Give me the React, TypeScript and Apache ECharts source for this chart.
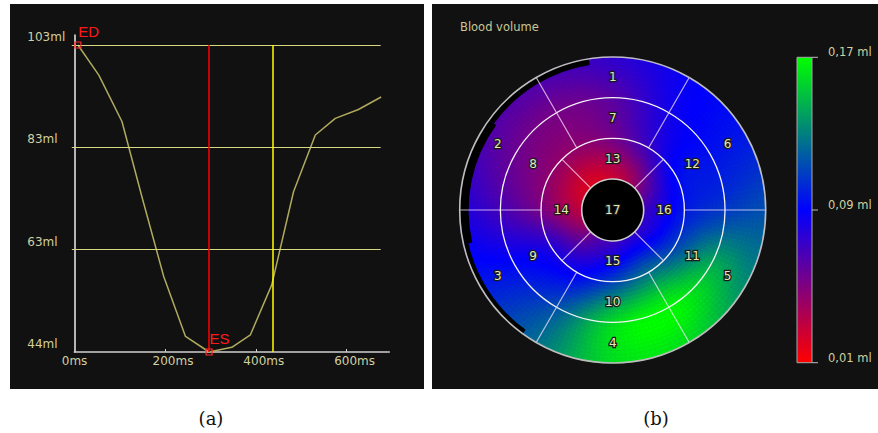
import React, { useEffect, useRef } from 'react';
import * as echarts from 'echarts';

// ---- (a) ventricular volume over one cycle ----
const TIME_MS = [8, 54, 105, 150, 197, 245, 297, 347, 388, 435, 483, 531, 575, 626, 676];
const VOLUME_ML = [103, 97.2, 88.3, 73.5, 58.5, 47.0, 44, 44.9, 47.3, 56.9, 74.8, 85.7, 88.9, 90.6, 93.0];
const ED_POINT = [8, 103];
const ES_POINT = [297, 44];
const CURSOR_MS = 438;
const VOLUME_TICKS = [44, 63.667, 83.333, 103];
const TIME_TICKS = [0, 200, 400, 600];
const TIME_MAX = 694;
const GRID_END_MS = 675;
const VOLUME_MIN = 44;
const VOLUME_MAX = 104.92;

// ---- (b) bull's-eye blood volume ----
// Field readings on ring boundaries (radius units: 0 = apex edge ... 3 = base edge)
const FIELD_RADII = [0, 1, 2, 3];
const FIELD_ANGLES = [0, 30, 60, 90, 120, 150, 180, 210, 240, 270, 300, 330];
const FIELD_ML = [
  [0.072, 0.055, 0.036, 0.026, 0.020, 0.021, 0.030, 0.042, 0.062, 0.070, 0.075, 0.074],
  [0.097, 0.091, 0.072, 0.053, 0.044, 0.044, 0.052, 0.078, 0.088, 0.110, 0.125, 0.110],
  [0.108, 0.095, 0.084, 0.062, 0.053, 0.056, 0.068, 0.092, 0.115, 0.158, 0.168, 0.145],
  [0.115, 0.097, 0.088, 0.075, 0.066, 0.066, 0.080, 0.098, 0.125, 0.160, 0.160, 0.135],
];

// 17-segment model
const SEGMENT_IDS = [1, 2, 3, 4, 5, 6, 7, 8, 9, 10, 11, 12, 13, 14, 15, 16];
const SEGMENT_RING = [2, 2, 2, 2, 2, 2, 1, 1, 1, 1, 1, 1, 0, 0, 0, 0];
const SEGMENT_START = [60, 120, 180, 240, 300, 0, 60, 120, 180, 240, 300, 0, 45, 135, 225, 315];
const SEGMENT_END = [120, 180, 240, 300, 360, 60, 120, 180, 240, 300, 360, 60, 135, 225, 315, 405];
const APEX_ID = 17;

// dark arcs along the outer border
const ARC_START = [99, 144, 193];
const ARC_END = [144, 193, 234];
const ARC_INNER = [2.85, 2.78, 2.88];

const VMIN = 0.01;
const VMAX = 0.17;
const COLORS = ['#ff0000', '#0000ff', '#00ff00'];
const LEGEND_TICKS = [0.17, 0.09, 0.01];

const FONT = 'DejaVu Sans';
const LABEL_COLOR = '#d0d0a0';

function scaleColor(v: number): string {
  const t = Math.max(0, Math.min(1, (v - VMIN) / (VMAX - VMIN)));
  return echarts.color.lerp(t, COLORS) as string;
}

// Catmull-Rom blend of four neighbouring readings
function cubic(p0: number, p1: number, p2: number, p3: number, t: number): number {
  return 0.5 * (2 * p1 + (-p0 + p2) * t + (2 * p0 - 5 * p1 + 4 * p2 - p3) * t * t + (-p0 + 3 * p1 - 3 * p2 + p3) * t * t * t);
}

function fieldAt(r: number, a: number): number {
  const nr = FIELD_RADII.length;
  const na = FIELD_ANGLES.length;
  const step = 360 / na;
  const rr = Math.max(0, Math.min(FIELD_RADII[nr - 1] - 1e-9, r));
  let i = 0;
  while (i < nr - 2 && rr > FIELD_RADII[i + 1]) i++;
  const fr = (rr - FIELD_RADII[i]) / (FIELD_RADII[i + 1] - FIELD_RADII[i]);
  const aa = ((a % 360) + 360) % 360;
  const j = Math.floor(aa / step) % na;
  const fa = aa / step - Math.floor(aa / step);
  const row = (k: number) => {
    const rowVals = FIELD_ML[Math.max(0, Math.min(nr - 1, k))];
    return cubic(
      rowVals[(j - 1 + na) % na], rowVals[j], rowVals[(j + 1) % na], rowVals[(j + 2) % na], fa,
    );
  };
  return cubic(row(i - 1), row(i), row(i + 1), row(i + 2), fr);
}

function radiusPx(api: any, cs: any, rv: number): number {
  const p = api.coord([rv, 0]);
  return Math.hypot(p[0] - cs.cx, p[1] - cs.cy);
}

const D2R = Math.PI / 180;

function renderFieldPatch(params: any, api: any) {
  const cs = params.coordSys;
  const r = api.value(0);
  const a = api.value(1);
  const rLo = Math.max(0, r - 0.5);
  const rHi = Math.min(3, r + 0.5);
  const half = 360 / FIELD_ANGLES.length / 2;
  const nR = Math.round((rHi - rLo) / 0.1);
  const nA = Math.round((2 * half) / 2);
  const dR = (rHi - rLo) / nR;
  const dA = (2 * half) / nA;
  const children: any[] = [];
  for (let m = 0; m < nR; m++) {
    const rv = rLo + m * dR;
    const r0 = radiusPx(api, cs, rv);
    const r1 = radiusPx(api, cs, rv + dR);
    for (let k = 0; k < nA; k++) {
      const av = a - half + k * dA;
      const c = scaleColor(fieldAt(rv + dR / 2, av + dA / 2));
      children.push({
        type: 'sector',
        shape: { cx: cs.cx, cy: cs.cy, r0, r: r1, startAngle: -(av + dA) * D2R, endAngle: -av * D2R, clockwise: true },
        style: { fill: c, stroke: c, lineWidth: 0.7 },
      });
    }
  }
  return { type: 'group', children };
}

function renderArc(params: any, api: any) {
  const cs = params.coordSys;
  const inner = api.value(0);
  const a0 = api.value(1);
  const a1 = api.value(2);
  return {
    type: 'sector',
    shape: {
      cx: cs.cx, cy: cs.cy, r0: radiusPx(api, cs, inner), r: radiusPx(api, cs, 3),
      startAngle: -a1 * D2R, endAngle: -a0 * D2R, clockwise: true,
    },
    style: { fill: '#000000' },
  };
}

const segLabelStyle = {
  fill: '#e6e6b8', stroke: '#1a1a1a', lineWidth: 2.5,
  fontSize: 12, fontFamily: FONT, align: 'center', verticalAlign: 'middle',
};

function renderSegment(params: any, api: any) {
  const cs = params.coordSys;
  const ring = api.value(0);
  const a0 = api.value(1);
  const a1 = api.value(2);
  const id = api.value(3);
  if (ring < 0) {
    const rh = radiusPx(api, cs, 0);
    return {
      type: 'group',
      children: [
        { type: 'circle', shape: { cx: cs.cx, cy: cs.cy, r: rh }, style: { fill: '#000000', stroke: '#cfcfcf', lineWidth: 1.6 } },
        { type: 'text', style: { ...segLabelStyle, text: String(id), x: cs.cx, y: cs.cy } },
      ],
    };
  }
  const pIn = api.coord([ring, a0]);
  const pOut = api.coord([ring + 1, a0]);
  const rOut = radiusPx(api, cs, ring + 1);
  const mid = api.coord([ring + 0.5, (a0 + a1) / 2]);
  return {
    type: 'group',
    children: [
      {
        type: 'line',
        shape: { x1: pIn[0], y1: pIn[1], x2: pOut[0], y2: pOut[1] },
        style: { stroke: 'rgba(255,236,255,0.72)', lineWidth: 1.2 },
      },
      {
        type: 'arc',
        shape: { cx: cs.cx, cy: cs.cy, r: rOut, startAngle: -a1 * D2R, endAngle: -a0 * D2R, clockwise: true },
        style: { stroke: ring === 2 ? '#bdbdbd' : '#f4f4f4', lineWidth: ring === 2 ? 1.6 : 1.3, fill: 'none' },
      },
      { type: 'text', style: { ...segLabelStyle, text: String(id), x: mid[0], y: mid[1] } },
    ],
  };
}

function buildOption(): any {
  const fieldData: number[][] = [];
  FIELD_RADII.forEach((r, i) => FIELD_ANGLES.forEach((a, j) => fieldData.push([r, a, FIELD_ML[i][j]])));

  const segmentData = SEGMENT_IDS.map((id, i) => [SEGMENT_RING[i], SEGMENT_START[i], SEGMENT_END[i], id]);
  segmentData.push([-1, 0, 360, APEX_ID]);

  const arcData = ARC_START.map((a, i) => [ARC_INNER[i], a, ARC_END[i]]);

  // colour bar: top = VMAX, bottom = VMIN
  const barX = 797;
  const barTop = 57.3;
  const barH = 305.4;
  const barW = 15;
  const barY = (v: number) => barTop + ((VMAX - v) / (VMAX - VMIN)) * barH;
  const stops = COLORS.map((c, i) => ({ offset: 1 - i / (COLORS.length - 1), color: c }))
    .sort((p, q) => p.offset - q.offset);

  const legendGraphics: any[] = [];
  LEGEND_TICKS.forEach((v) => {
    const y = barY(v);
    legendGraphics.push({
      type: 'line', shape: { x1: barX + barW, y1: y, x2: barX + barW + 6, y2: y },
      style: { stroke: '#bcbcbc', lineWidth: 1 },
    });
    legendGraphics.push({
      type: 'text', x: 828, y: y - 5,
      style: {
        text: v.toFixed(2).replace('.', ',') + ' ml', fill: LABEL_COLOR,
        fontSize: 11.5, fontFamily: FONT, verticalAlign: 'middle', align: 'left',
      },
    });
  });

  return {
    animation: false,
    backgroundColor: '#ffffff',
    graphic: [
      { type: 'rect', z: -10, shape: { x: 10, y: 4, width: 414, height: 385 }, style: { fill: '#111111' } },
      { type: 'rect', z: -10, shape: { x: 432, y: 4, width: 446, height: 385 }, style: { fill: '#111111' } },
      {
        type: 'text', x: 460, y: 27,
        style: { text: 'Blood volume', fill: '#c8c896', fontSize: 11.5, fontFamily: FONT, verticalAlign: 'middle' },
      },
      {
        type: 'rect', shape: { x: barX, y: barTop, width: barW, height: barH },
        style: { fill: { type: 'linear', x: 0, y: 0, x2: 0, y2: 1, colorStops: stops }, stroke: '#a8a8a8', lineWidth: 1 },
      },
      ...legendGraphics,
      {
        type: 'text', x: 211, y: 418,
        style: { text: '(a)', fill: '#111', fontSize: 18, fontFamily: 'DejaVu Serif', align: 'center', verticalAlign: 'middle' },
      },
      {
        type: 'text', x: 656, y: 418,
        style: { text: '(b)', fill: '#111', fontSize: 18, fontFamily: 'DejaVu Serif', align: 'center', verticalAlign: 'middle' },
      },
    ],
    grid: { left: 74.3, top: 35, width: 315, height: 317, containLabel: false, outerBoundsMode: 'none' },
    xAxis: {
      type: 'value', min: 0, max: TIME_MAX, z: 3,
      axisLine: { show: true, onZero: false, lineStyle: { color: '#cfcfcf', width: 1.5 } },
      axisTick: { show: true, inside: true, length: 3, customValues: TIME_TICKS.slice(1), lineStyle: { color: '#cfcfcf' } },
      axisLabel: {
        customValues: TIME_TICKS, margin: 3, align: 'center',
        formatter: (v: number) => `{t|${v}ms}`,
        rich: { t: { width: 25, align: 'left', color: LABEL_COLOR, fontSize: 12, fontFamily: FONT } },
      },
      splitLine: { show: false },
    },
    yAxis: {
      type: 'value', min: VOLUME_MIN, max: VOLUME_MAX, z: 3,
      axisLine: { show: true, onZero: false, lineStyle: { color: '#ececec', width: 1.5 } },
      axisTick: { show: true, length: 2.5, customValues: VOLUME_TICKS.slice(1), lineStyle: { color: '#d8d880' } },
      axisLabel: {
        customValues: VOLUME_TICKS, margin: 47, align: 'left', verticalAlign: 'bottom', padding: [0, 0, 2, 0],
        formatter: (v: number) => `${Math.floor(v + 1e-6)}ml`,
        color: LABEL_COLOR, fontSize: 12, fontFamily: FONT,
      },
      splitLine: { show: false },
    },
    polar: { center: [612.7, 210], radius: [31, 153] },
    angleAxis: { type: 'value', min: 0, max: 360, startAngle: 0, clockwise: false, show: false },
    radiusAxis: { type: 'value', min: 0, max: 3, show: false },
    series: [
      {
        type: 'line', name: 'Volume', z: 4,
        data: TIME_MS.map((t, i) => [t, VOLUME_ML[i]]),
        symbol: 'none',
        lineStyle: { color: '#b0aa5e', width: 1.5 },
        markLine: {
          silent: true, symbol: ['none', 'none'], label: { show: false },
          data: [
            ...VOLUME_TICKS.slice(1).map((v) => [
              { coord: [0, v], lineStyle: { color: '#d8d880', width: 1.2, type: 'solid' } },
              { coord: [GRID_END_MS, v] },
            ]),
            [
              { coord: [ES_POINT[0], VOLUME_MIN], lineStyle: { color: '#ff0000', width: 1.5, type: 'solid' } },
              { coord: [ES_POINT[0], ED_POINT[1]] },
            ],
            [
              { coord: [CURSOR_MS, VOLUME_MIN], lineStyle: { color: '#ffff00', width: 1.5, type: 'solid' } },
              { coord: [CURSOR_MS, ED_POINT[1]] },
            ],
          ],
        },
        markPoint: {
          silent: true, symbol: 'rect', symbolSize: 6,
          itemStyle: { color: 'rgba(0,0,0,0)', borderColor: '#ff2a2a', borderWidth: 1.2 },
          label: {
            show: true, formatter: '{b}', position: [4, -10], align: 'left', verticalAlign: 'middle',
            color: '#ff1a1a', fontSize: 15, fontFamily: 'Liberation Sans',
          },
          data: [
            { name: 'ED', coord: ED_POINT },
            { name: 'ES', coord: ES_POINT },
          ],
        },
      },
      { type: 'custom', coordinateSystem: 'polar', z: 2, silent: true, data: fieldData, renderItem: renderFieldPatch },
      { type: 'custom', coordinateSystem: 'polar', z: 3, silent: true, data: arcData, renderItem: renderArc },
      { type: 'custom', coordinateSystem: 'polar', z: 5, silent: true, data: segmentData, renderItem: renderSegment },
    ],
  };
}

export default function App() {
  const ref = useRef<HTMLDivElement>(null);
  useEffect(() => {
    const chart = echarts.init(ref.current!, null, { renderer: 'svg' });
    chart.setOption(buildOption());
    return () => chart.dispose();
  }, []);
  return <div ref={ref} style={{ position: 'absolute', left: 0, top: 0, width: 878, height: 433 }} />;
}
